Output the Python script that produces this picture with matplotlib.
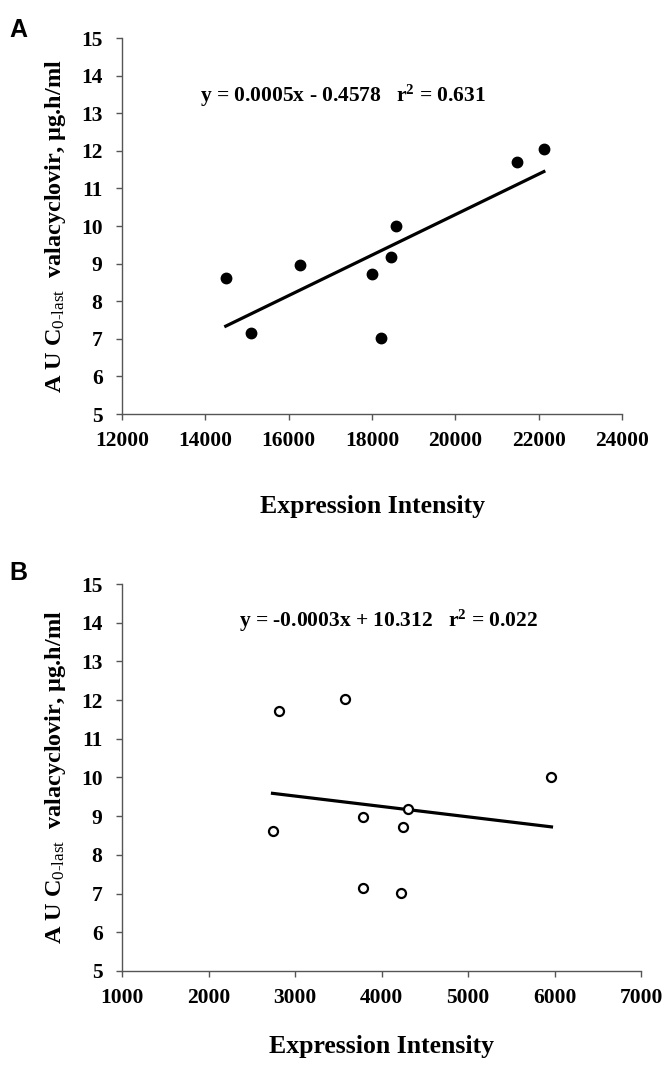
import matplotlib.pyplot as plt
import numpy as np

plt.rcParams['font.family'] = ['Liberation Serif', 'DejaVu Serif']
plt.rcParams['mathtext.fontset'] = 'custom'
plt.rcParams['mathtext.rm'] = 'Liberation Serif'
plt.rcParams['mathtext.bf'] = 'Liberation Serif:bold'
plt.rcParams['mathtext.it'] = 'Liberation Serif:italic'

# AUC values (same nine subjects in both panels)
auc = [8.63, 7.15, 8.97, 8.72, 7.01, 9.18, 10.01, 11.71, 12.04]
# expression intensity, panel A and panel B
expr_a = [14490, 15100, 16280, 18005, 18215, 18445, 18565, 21485, 22125]
expr_b = [2740, 3785, 3785, 4250, 4225, 4305, 5965, 2815, 3575]

eq_a = 'y = 0.0005x - 0.4578   r$^{\\mathbf{2}}$ = 0.631'
eq_b = 'y = -0.0003x + 10.312   r$^{\\mathbf{2}}$ = 0.022'

ylab = 'A U C$_{\\text{0-last}}$  valacyclovir, \u00b5g.h/ml'
xlab = 'Expression Intensity'

fig = plt.figure(figsize=(6.67, 10.66), dpi=100)
W, H = 667, 1066


def make_axes(l, r, b, t):
    return fig.add_axes([l / W, 1 - b / H, (r - l) / W, (b - t) / H])


def style(ax, xlim, xticks, xpad):
    ax.set_xlim(*xlim)
    ax.set_ylim(5, 15)
    ax.set_xticks(xticks)
    ax.set_yticks(range(5, 16))
    for s in ['top', 'right']:
        ax.spines[s].set_visible(False)
    for s in ['left', 'bottom']:
        ax.spines[s].set_color('#555555')
        ax.spines[s].set_linewidth(1.0)
    ax.tick_params(direction='out', length=4, width=1, color='#555555',
                   labelsize=15.5)
    ax.tick_params(axis='y', pad=10)
    ax.tick_params(axis='x', pad=8)
    for lab in ax.get_xticklabels() + ax.get_yticklabels():
        lab.set_fontweight('bold')
    ax.set_ylabel(ylab, fontsize=17.5, fontweight='bold', labelpad=9)
    ax.set_xlabel(xlab, fontsize=18.5, fontweight='bold', labelpad=xpad)


def fit_line(ax, x, y):
    x = np.array(x, dtype=float)
    y = np.array(y, dtype=float)
    m, c = np.polyfit(x, y, 1)
    xs = np.array([x.min(), x.max()])
    ax.plot(xs, m * xs + c, color='black', lw=2.3, zorder=2)


# Panel A
ax1 = make_axes(122, 622, 414, 38)
style(ax1, (12000, 24000), range(12000, 24001, 2000), 32)
fit_line(ax1, expr_a, auc)
ax1.plot(expr_a, auc, 'o', color='black', ms=7.5, zorder=3)
ax1.text(0.155, 0.845, eq_a, transform=ax1.transAxes, fontsize=15.5,
         fontweight='bold', va='center')
fig.text(9 / W, 1 - 30 / H, 'A', fontsize=18, fontweight='bold',
         family='Liberation Sans', va='center')

# Panel B
ax2 = make_axes(122, 641, 971, 584)
style(ax2, (1000, 7000), range(1000, 7001, 1000), 20)
fit_line(ax2, expr_b, auc)
ax2.plot(expr_b, auc, 'o', mfc='white', mec='black', mew=1.6, ms=6.5, zorder=3)
ax2.text(0.225, 0.905, eq_b, transform=ax2.transAxes, fontsize=15.5,
         fontweight='bold', va='center')
fig.text(9 / W, 1 - 573 / H, 'B', fontsize=18, fontweight='bold',
         family='Liberation Sans', va='center')

plt.savefig('out.png', dpi=100)
